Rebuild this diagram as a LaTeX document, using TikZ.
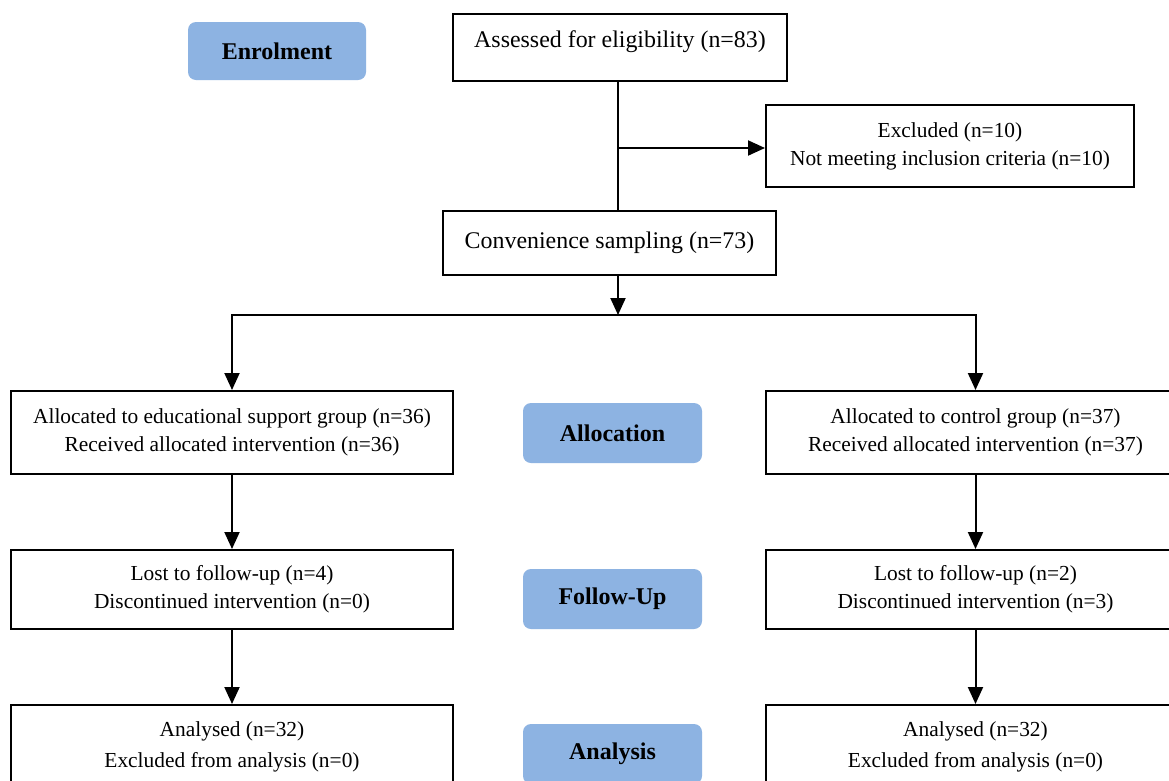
\documentclass[tikz,border=0pt]{standalone}
\usepackage{fontspec}
\setmainfont{Liberation Serif}
\usetikzlibrary{arrows.meta}
\definecolor{stageblue}{HTML}{8DB3E2}
\begin{document}
\begin{tikzpicture}[x=1pt,y=-1pt,
  box/.style={draw=black,line width=2pt,fill=white,align=center,inner sep=0pt,
    font=\fontsize{21.4}{28}\selectfont},
  bigbox/.style={box,font=\fontsize{23.9}{28}\selectfont},
  stage/.style={fill=stageblue,rounded corners=8pt,inner sep=0pt,
    minimum width=179pt,minimum height=60pt,font=\bfseries\fontsize{24}{28}\selectfont},
  arr/.style={line width=2pt,-{Triangle[length=17pt,width=15pt]}},
  ln/.style={line width=2pt}]
\useasboundingbox (0,0) rectangle (1169,780);
\clip (0,0) rectangle (1169,780);
\fill[white] (0,0) rectangle (1169,780);

\node[stage,minimum width=178pt,minimum height=58pt] (enrol) at (277,51) {Enrolment};
\node[bigbox,minimum width=334pt,minimum height=67pt,text depth=16pt] (assess) at (620,47.5) {Assessed for eligibility (n=83)};
\node[box,minimum width=368pt,minimum height=82pt] (excl) at (950,146) {Excluded (n=10)\\Not meeting inclusion criteria (n=10)};
\node[bigbox,minimum width=333pt,minimum height=64pt] (conv) at (609.5,243) {Convenience sampling (n=73)};

\node[box,minimum width=442pt,minimum height=83pt] (allocL) at (232,432.5) {Allocated to educational support group (n=36)\\Received allocated intervention (n=36)};
\node[stage] (alloc) at (612.5,433) {Allocation};
\node[box,minimum width=419pt,minimum height=83pt] (allocR) at (975.5,432.5) {Allocated to control group (n=37)\\Received allocated intervention (n=37)};

\node[box,minimum width=442pt,minimum height=79pt] (lostL) at (232,589.5) {Lost to follow-up (n=4)\\Discontinued intervention (n=0)};
\node[stage] (fu) at (612.5,599) {Follow-Up};
\node[box,minimum width=419pt,minimum height=79pt] (lostR) at (975.5,589.5) {Lost to follow-up (n=2)\\Discontinued intervention (n=3)};

\node[box,minimum width=442pt,minimum height=83pt,font=\fontsize{21.4}{31}\selectfont] (anL) at (232,746.5) {Analysed (n=32)\\Excluded from analysis (n=0)};
\node[stage] (an) at (612.5,754) {Analysis};
\node[box,minimum width=419pt,minimum height=83pt,font=\fontsize{21.4}{31}\selectfont] (anR) at (975.5,746.5) {Analysed (n=32)\\Excluded from analysis (n=0)};

\coordinate (t1) at (618,148);
\coordinate (split) at (618,315);
\draw[ln] (assess.south -| t1) -- (conv.north -| t1);
\draw[arr] (t1) -- (excl.west |- t1);
\draw[arr] (conv.south -| t1) -- (split);
\draw[arr] (split) -| (allocL.north);
\draw[arr] (split) -| (allocR.north);
\draw[arr] (allocL.south) -- (lostL.north);
\draw[arr] (allocR.south) -- (lostR.north);
\draw[arr] (lostL.south) -- (anL.north);
\draw[arr] (lostR.south) -- (anR.north);
\end{tikzpicture}
\end{document}
